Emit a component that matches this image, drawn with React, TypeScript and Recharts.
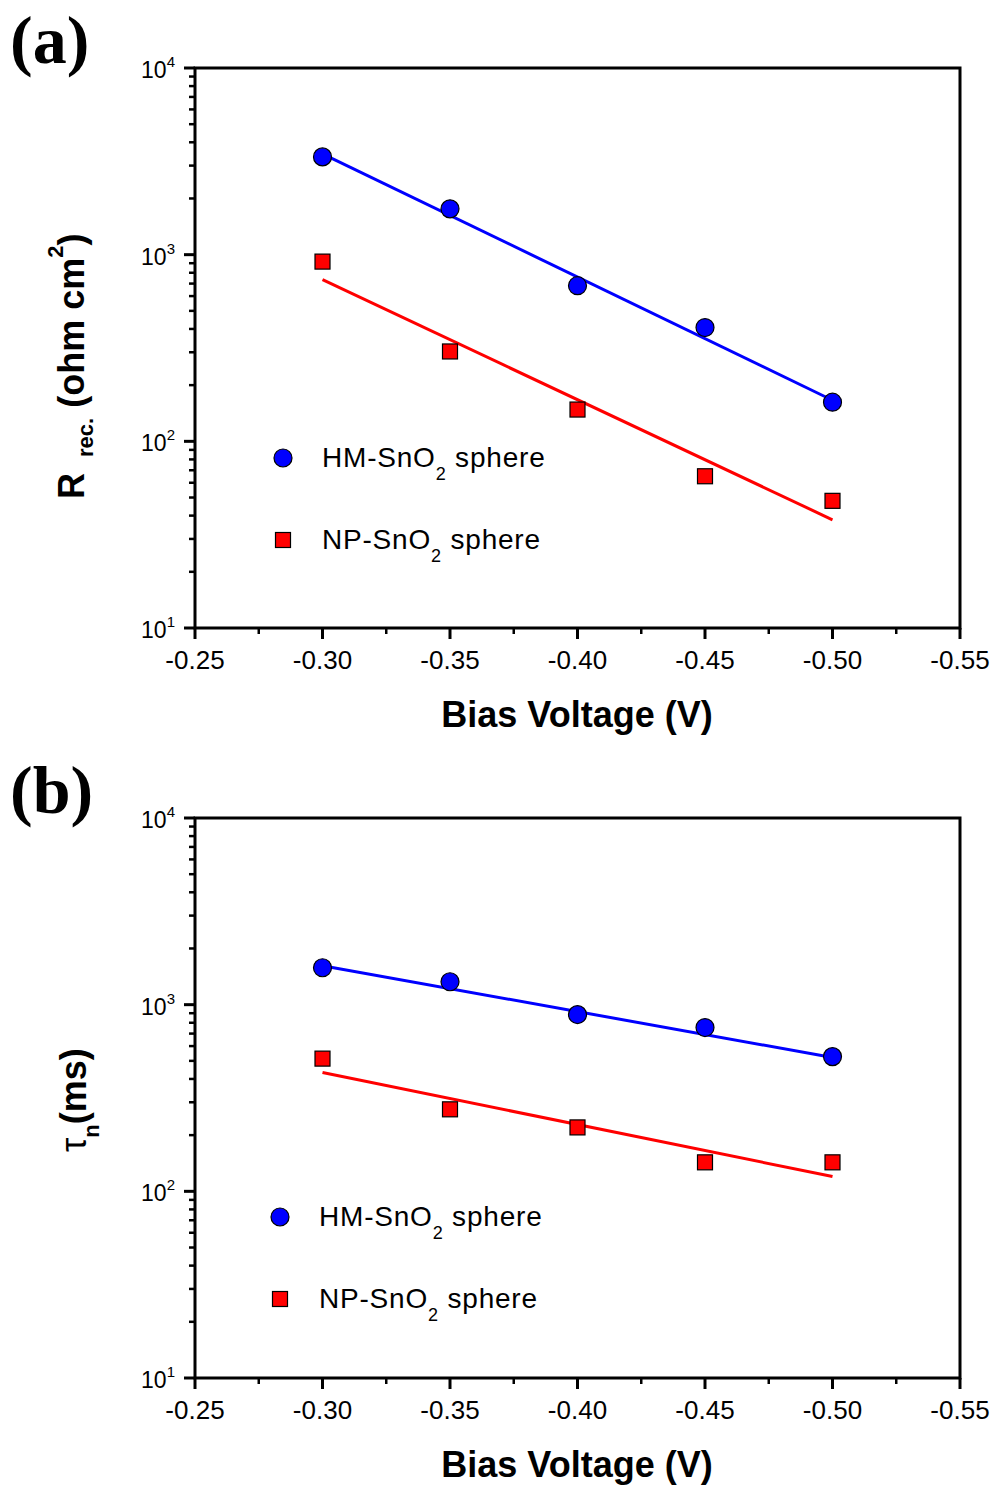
import React from 'react'
import { ComposedChart, Scatter, Line, XAxis, YAxis, Legend, ReferenceArea } from 'recharts'

// bias voltage (V)
const voltages = [-0.3, -0.35, -0.4, -0.45, -0.5]
const fitVoltages = [-0.3, -0.5]

// (a) recombination resistance (ohm cm2)
const rrecHM = [3340, 1760, 682, 407, 162]
const rrecNP = [918, 303, 148, 65, 48]
const rrecFitHM = [3470, 166]
const rrecFitNP = [735, 38]

// (b) electron lifetime (ms)
const tauHM = [1577, 1327, 885, 754, 527]
const tauNP = [514, 275, 220, 143, 143]
const tauFitHM = [1618, 521]
const tauFitNP = [433, 120]

const xTicks = [-0.25, -0.275, -0.3, -0.325, -0.35, -0.375, -0.4, -0.425, -0.45, -0.475, -0.5, -0.525, -0.55]
const xMajor = ['-0.25', '-0.30', '-0.35', '-0.40', '-0.45', '-0.50', '-0.55']
const yTicks = [10, 20, 30, 40, 50, 60, 70, 80, 90, 100, 200, 300, 400, 500, 600, 700, 800, 900,
  1000, 2000, 3000, 4000, 5000, 6000, 7000, 8000, 9000, 10000]
const yMajor = [10, 100, 1000, 10000]

const seriesNames = ['HM-SnO', 'NP-SnO']

const FONT = 'Liberation Sans'
const SERIF = 'Liberation Serif'
const BLUE = '#0000ff'
const RED = '#ff0000'

const toPoints = (xs: number[], ys: number[]) => xs.map((v, i) => ({ v, y: ys[i] }))

const XTick = (props: any) => {
  const { x, y, payload } = props
  const label = payload.value.toFixed(2)
  const major = xMajor.includes(label)
  return (
    <g>
      <line x1={x} x2={x} y1={y} y2={y + (major ? 11 : 6)} stroke="#000" strokeWidth={major ? 3 : 2.5} />
      {major && (
        <text x={x} y={y + 41} textAnchor="middle" style={{ fontFamily: FONT }} fontSize={26} fill="#000">
          {label}
        </text>
      )}
    </g>
  )
}

const YTick = (props: any) => {
  const { x, y, payload } = props
  const v = payload.value
  const major = yMajor.includes(v)
  return (
    <g>
      <line x1={x} x2={x - (major ? 11 : 6)} y1={y} y2={y} stroke="#000" strokeWidth={major ? 3 : 2.5} />
      {major && (
        <text x={x - 20} y={y + 10} textAnchor="end" style={{ fontFamily: FONT }} fontSize={23} fill="#000">
          10<tspan dy={-11} fontSize={15}>{Math.round(Math.log10(v))}</tspan>
        </text>
      )}
    </g>
  )
}

const Dot = (props: any) => <circle cx={props.cx} cy={props.cy} r={9} fill={BLUE} stroke="#000" strokeWidth={1.2} />
const Sq = (props: any) => (
  <rect x={props.cx - 7.5} y={props.cy - 7.5} width={15} height={15} fill={RED} stroke="#000" strokeWidth={1.2} />
)

const LegendRow = ({ y, name }: { y: number; name: string }) => (
  <text x={61} y={y} style={{ fontFamily: FONT, letterSpacing: 0.8 }} fontSize={28} fill="#000">
    {name}
    <tspan dy={13} fontSize={18}>2</tspan>
    <tspan dy={-13}> sphere</tspan>
  </text>
)

const LegendBox = () => (
  <svg width={320} height={140}>
    <circle cx={22} cy={22} r={9} fill={BLUE} stroke="#000" strokeWidth={1.2} />
    <LegendRow y={31} name={seriesNames[0]} />
    <rect x={14.5} y={96.5} width={15} height={15} fill={RED} stroke="#000" strokeWidth={1.2} />
    <LegendRow y={113} name={seriesNames[1]} />
  </svg>
)

interface PanelProps {
  hm: number[]
  np: number[]
  fitHM: number[]
  fitNP: number[]
  legendLeft: number
  legendTop: number
}

function Panel({ hm, np, fitHM, fitNP, legendLeft, legendTop }: PanelProps) {
  return (
    <ComposedChart width={995} height={740} margin={{ top: 68, right: 35, bottom: 52, left: 135 }}>
      <XAxis
        dataKey="v"
        type="number"
        domain={[-0.55, -0.25]}
        reversed
        ticks={xTicks}
        interval={0}
        tick={<XTick />}
        tickLine={false}
        tickSize={0}
        tickMargin={0}
        height={60}
        axisLine={false}
        allowDataOverflow
      />
      <YAxis
        scale="log"
        type="number"
        domain={[10, 10000]}
        ticks={yTicks}
        interval={0}
        tick={<YTick />}
        tickLine={false}
        tickSize={0}
        tickMargin={0}
        width={60}
        axisLine={false}
        allowDataOverflow
      />
      <ReferenceArea x1={-0.55} x2={-0.25} y1={10} y2={10000} fill="none" stroke="#000" strokeWidth={3} ifOverflow="visible" />
      <Line data={toPoints(fitVoltages, fitHM)} dataKey="y" stroke={BLUE} strokeWidth={3}
        dot={false} isAnimationActive={false} />
      <Line data={toPoints(fitVoltages, fitNP)} dataKey="y" stroke={RED} strokeWidth={3}
        dot={false} isAnimationActive={false} />
      <Scatter data={toPoints(voltages, hm)} dataKey="y" shape={<Dot />} isAnimationActive={false} />
      <Scatter data={toPoints(voltages, np)} dataKey="y" shape={<Sq />} isAnimationActive={false} />
      <Legend
        layout="vertical"
        align="center"
        verticalAlign="middle"
        content={<LegendBox />}
        wrapperStyle={{ position: 'absolute', left: legendLeft, top: legendTop, width: 320, height: 140 }}
      />
    </ComposedChart>
  )
}

export default function App() {
  return (
    <div style={{ position: 'absolute', left: 0, top: 0, width: 995, height: 1486, background: '#fff' }}>
      <div style={{ position: 'absolute', left: 0, top: 0 }}>
        <Panel hm={rrecHM} np={rrecNP} fitHM={rrecFitHM} fitNP={rrecFitNP} legendLeft={261} legendTop={436} />
      </div>
      <div style={{ position: 'absolute', left: 0, top: 750 }}>
        <Panel hm={tauHM} np={tauNP} fitHM={tauFitHM} fitNP={tauFitNP} legendLeft={258} legendTop={445} />
      </div>
      <svg width={995} height={1486} style={{ position: 'absolute', left: 0, top: 0, pointerEvents: 'none' }}>
        <text x={10} y={63} style={{ fontFamily: SERIF }} fontWeight="bold" fontSize={68}>(a)</text>
        <text x={10} y={813} style={{ fontFamily: SERIF }} fontWeight="bold" fontSize={68}>(b)</text>
        <text x={577} y={727} textAnchor="middle" style={{ fontFamily: FONT }} fontWeight="bold" fontSize={36}>Bias Voltage (V)</text>
        <text x={577} y={1477} textAnchor="middle" style={{ fontFamily: FONT }} fontWeight="bold" fontSize={36}>Bias Voltage (V)</text>
        <text transform="translate(84,499) rotate(-90)" style={{ fontFamily: FONT }} fontWeight="bold" fontSize={36}>
          R<tspan dx={16} dy={9} fontSize={22}>rec.</tspan>
          <tspan dy={-9}> (ohm cm</tspan>
          <tspan dy={-21} fontSize={22}>2</tspan>
          <tspan dy={21}>)</tspan>
        </text>
        <text transform="translate(86,1152) rotate(-90)" style={{ fontFamily: FONT }} fontWeight="bold" fontSize={36}>
          <tspan fontWeight="normal">τ</tspan>
          <tspan dy={13} fontSize={22}>n</tspan>
          <tspan dy={-13}>(ms)</tspan>
        </text>
      </svg>
    </div>
  )
}
